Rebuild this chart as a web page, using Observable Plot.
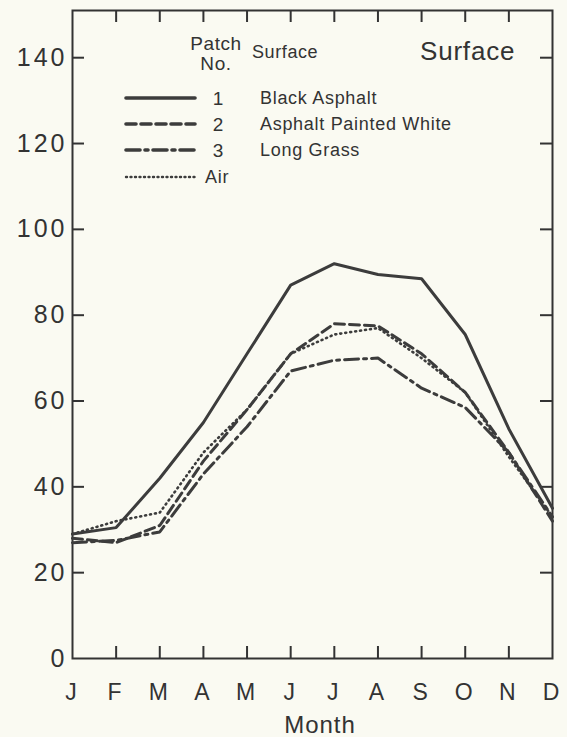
<!DOCTYPE html>
<html>
<head>
<meta charset="utf-8">
<script src="https://cdn.jsdelivr.net/npm/d3@7"></script>
<script src="https://cdn.jsdelivr.net/npm/@observablehq/plot@0.6"></script>
<style>
  html, body { margin: 0; padding: 0; background: #fafaf2; }
  #wrap { position: relative; width: 567px; height: 737px; font-family: "Liberation Sans", Arial, sans-serif; color: #333; }
  #wrap svg text { letter-spacing: 3px; }
  .lg { position: absolute; line-height: 1; white-space: nowrap; color: #333; }
</style>
</head>
<body>
<div id="wrap"></div>
<script>
// ---- data ----
const monthLabels = ["J","F","M","A","M","J","J","A","S","O","N","D"];
const monthIndex = [0,1,2,3,4,5,6,7,8,9,10,11];
const blackAsphalt   = [29, 30.5, 42, 55, 71, 87, 92, 89.5, 88.5, 75.5, 53.5, 35];
const paintedWhite   = [28, 27, 31, 46, 58, 71, 78, 77.5, 71, 62, 48, 32];
const longGrass      = [27, 27.5, 29.5, 43, 54, 67, 69.5, 70, 63, 58.5, 48, 33];
const air            = [29, 32, 34, 48, 58, 71, 75.5, 77, 70, 62, 47, 33];
const yTicks = [0, 20, 40, 60, 80, 100, 120, 140];
const innerMonthTicks = [1,2,3,4,5,6,7,8,9,10];

const seriesDefs = [
  {name: "Black Asphalt", no: "1", values: blackAsphalt, dash: null},
  {name: "Asphalt Painted White", no: "2", values: paintedWhite, dash: "10,5"},
  {name: "Long Grass", no: "3", values: longGrass, dash: "14,5,3,5"},
  {name: "Air", no: "", values: air, dash: "1,4"}
];

const ink = "#3c3c3c";
const W = 567, H = 737;
const mL = 72, mR = 15, mT = 10, mB = 79;
const pw = W - mL - mR, ph = H - mT - mB;

const lineMarks = seriesDefs.map(s => Plot.line(monthIndex, {
  x: i => i, y: i => s.values[i],
  stroke: ink, strokeWidth: s.dash === "1,4" ? 2.6 : 3,
  strokeDasharray: s.dash || undefined,
  strokeLinecap: "round", strokeLinejoin: "round"
}));

const chart = Plot.plot({
  width: W, height: H,
  marginLeft: mL, marginRight: mR, marginTop: mT, marginBottom: mB,
  style: {background: "#fafaf2", fontFamily: "Liberation Sans, Arial, sans-serif", color: "#333", overflow: "visible"},
  x: {type: "linear", domain: [0, 11]},
  y: {domain: [0, 151]},
  marks: [
    Plot.frame({stroke: "#333", strokeWidth: 2}),
    // inward tick marks
    Plot.tickY(yTicks.filter(v => v > 0), {y: d => d, insetRight: pw - 12, stroke: "#333", strokeWidth: 2}),
    Plot.tickY(yTicks.filter(v => v > 0), {y: d => d, insetLeft: pw - 12, stroke: "#333", strokeWidth: 2}),
    Plot.tickX(innerMonthTicks, {x: d => d, insetTop: ph - 12, stroke: "#333", strokeWidth: 2}),
    Plot.tickX(innerMonthTicks, {x: d => d, insetBottom: ph - 12, stroke: "#333", strokeWidth: 2}),
    Plot.axisY({ticks: yTicks, tickSize: 0, tickPadding: 5, fontSize: 25, label: null}),
    Plot.axisX({ticks: monthIndex, tickSize: 0, tickPadding: 25, fontSize: 23,
                tickFormat: i => monthLabels[i], label: null}),
    ...lineMarks
  ]
});

const wrap = document.getElementById("wrap");
wrap.appendChild(chart);

// ---- text overlays ----
function addText(txt, x, cy, fs, align, extra) {
  const d = document.createElement("div");
  d.className = "lg";
  d.textContent = txt;
  d.style.fontSize = fs + "px";
  d.style.top = (cy - fs / 2) + "px";
  if (extra) Object.assign(d.style, extra);
  if (align === "center") { d.style.left = (x - 100) + "px"; d.style.width = "200px"; d.style.textAlign = "center"; }
  else d.style.left = x + "px";
  wrap.appendChild(d);
}
// x-axis title
addText("Month", 320, 725, 24, "center", {letterSpacing: "1px"});

// legend (inside the plot area)
addText("Patch", 216, 43, 19, "center", {letterSpacing: "0.6px"});
addText("No.", 216, 63, 19, "center", {letterSpacing: "0.6px"});
addText("Surface", 252, 52, 18, "left", {letterSpacing: "0.6px"});
addText("Surface", 420, 51, 26, "left", {letterSpacing: "0.8px"});

const rowY = [98, 124, 150, 177];
seriesDefs.forEach((s, k) => {
  const cy = rowY[k];
  const sv = document.createElementNS("http://www.w3.org/2000/svg", "svg");
  sv.setAttribute("width", 76); sv.setAttribute("height", 10);
  sv.style.position = "absolute";
  sv.style.left = "123px"; sv.style.top = (cy - 5) + "px";
  const ln = document.createElementNS("http://www.w3.org/2000/svg", "line");
  ln.setAttribute("x1", 3); ln.setAttribute("x2", 72);
  ln.setAttribute("y1", 5); ln.setAttribute("y2", 5);
  ln.setAttribute("stroke", ink);
  ln.setAttribute("stroke-width", s.dash === "1,4" ? 2.4 : 3.6);
  ln.setAttribute("stroke-linecap", "round");
  if (s.dash) ln.setAttribute("stroke-dasharray", s.dash === "1,4" ? "1,3.5" : s.dash);
  sv.appendChild(ln);
  wrap.appendChild(sv);
  if (s.no) {
    addText(s.no, 218, cy, 19, "center");
    addText(s.name, 260, cy, 18, "left", {letterSpacing: "0.7px"});
  } else {
    addText(s.name, 205, cy, 18, "left", {letterSpacing: "0.7px"});
  }
});
</script>
</body>
</html>
